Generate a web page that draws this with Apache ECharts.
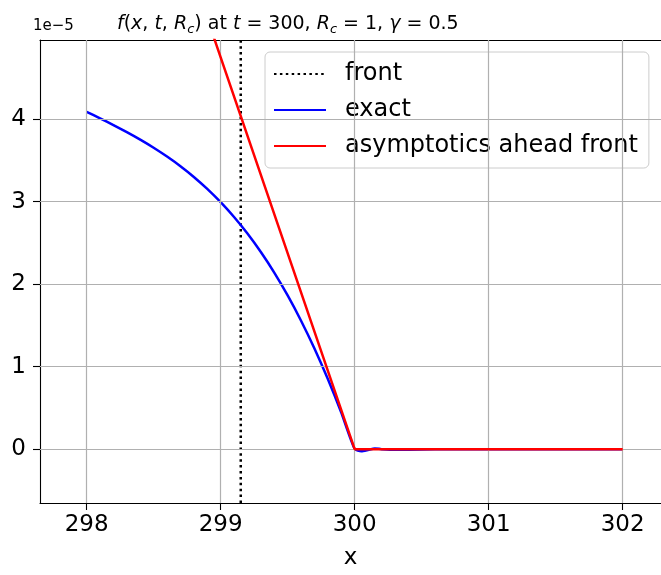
<!DOCTYPE html>
<html>
<head>
<meta charset="utf-8">
<script src="https://cdn.jsdelivr.net/npm/echarts@6/dist/echarts.min.js"></script>
<style>
  html, body { margin: 0; padding: 0; background: #fff; }
  #chart { width: 661px; height: 575px; }
</style>
</head>
<body>
<div id="chart"></div>
<script>
// Values of f are in units of 1e-5
const xTicks = [298, 299, 300, 301, 302];
const yTicks = [0, 1, 2, 3, 4];

const frontX = 299.15;

const exactX = [298.0, 298.1, 298.2, 298.3, 298.4, 298.5, 298.6, 298.7, 298.8, 298.9,
                299.0, 299.1, 299.2, 299.3, 299.4, 299.5, 299.6, 299.7, 299.8, 299.9,
                300.0, 300.05, 300.1, 300.15, 300.2, 300.3, 300.5, 300.7, 301.0, 301.5, 302.0];
const exactY = [4.090, 4.011, 3.929, 3.843, 3.752, 3.654, 3.547, 3.430, 3.300, 3.155,
                2.994, 2.814, 2.613, 2.389, 2.140, 1.863, 1.557, 1.220, 0.849, 0.442,
                0.002, -0.025, -0.010, 0.008, 0.000, -0.008, -0.004, 0.000, 0.000, 0.000, 0.000];

const asymX = [298.0, 300.0, 302.0];
const asymY = [9.50, 0.00, 0.00];

const xMin = 297.652, xMax = 302.286;
const yMin = -0.653, yMax = 4.96;

const pairs = (xs, ys) => xs.map((x, i) => [x, ys[i]]);

const font = 'DejaVu Sans';
const chart = echarts.init(document.getElementById('chart'), null, { renderer: 'canvas' });

const hiddenAxis = {
  axisLabel: { show: false }, axisTick: { show: false }, splitLine: { show: false }
};

chart.setOption({
  animation: false,
  backgroundColor: '#ffffff',
  textStyle: { fontFamily: font, color: '#000' },
  title: {
    text: '{i|f}{n|(}{i|x}{n|, }{i|t}{n|, }{i|R}{s|c}{n|) at }{i|t}{n| = 300, }{i|R}{s|c}{n| = 1, }{i|γ}{n| = 0.5}',
    left: 112,
    top: 7,
    textStyle: {
      fontFamily: font,
      fontSize: 19,
      fontWeight: 'normal',
      color: '#000',
      rich: {
        n: { fontFamily: font, fontSize: 19, fontWeight: 'normal', lineHeight: 24 },
        i: { fontFamily: font, fontSize: 19, fontStyle: 'italic', fontWeight: 'normal', lineHeight: 24 },
        s: { fontFamily: font, fontSize: 13, fontStyle: 'italic', fontWeight: 'normal', lineHeight: 13, verticalAlign: 'bottom' }
      }
    }
  },
  graphic: [{
    type: 'text',
    left: 33,
    top: 19,
    style: { text: '1e\u22125', font: '15px "DejaVu Sans"', fill: '#000' }
  }],
  legend: {
    orient: 'vertical',
    left: 265,
    top: 52,
    itemWidth: 52,
    itemHeight: 14,
    itemGap: 8,
    padding: [8, 11, 8, 8],
    backgroundColor: 'rgba(255,255,255,0.8)',
    borderColor: '#cccccc',
    borderWidth: 1,
    borderRadius: 5,
    itemStyle: { color: 'rgba(0,0,0,0)', borderWidth: 0 },
    textStyle: { fontFamily: font, fontSize: 24, color: '#000', lineHeight: 28, padding: [0, 0, 0, 14] },
    data: ['front', 'exact', 'asymptotics ahead front']
  },
  grid: {
    left: 40, top: 40, right: 0, bottom: 67,
    show: false
  },
  xAxis: [{
    type: 'value',
    min: xMin, max: xMax,
    name: 'x',
    nameLocation: 'middle',
    nameGap: 44,
    nameTextStyle: { fontFamily: font, fontSize: 23, color: '#000' },
    axisLine: { show: true, onZero: false, lineStyle: { color: '#000', width: 1.1 } },
    axisTick: { show: true, length: 7, lineStyle: { color: '#000', width: 1.1 }, customValues: xTicks },
    axisLabel: { fontFamily: font, fontSize: 23, color: '#000', margin: 11, customValues: xTicks },
    splitLine: { show: false }
  }, Object.assign({
    type: 'value', position: 'top',
    min: xMin, max: xMax,
    axisLine: { show: true, onZero: false, lineStyle: { color: '#000', width: 1.1 } }
  }, hiddenAxis)],
  yAxis: {
    type: 'value',
    min: yMin, max: yMax,
    axisLine: { show: true, onZero: false, lineStyle: { color: '#000', width: 1.1 } },
    axisTick: { show: true, length: 7, lineStyle: { color: '#000', width: 1.1 }, customValues: yTicks },
    axisLabel: { fontFamily: font, fontSize: 23, color: '#000', margin: 14, customValues: yTicks },
    splitLine: { show: false }
  },
  series: [
    {
      // grid lines at the tick positions
      type: 'line', name: '_grid', data: [], silent: true,
      markLine: {
        silent: true, symbol: 'none', animation: false,
        label: { show: false },
        lineStyle: { color: '#b0b0b0', width: 1.2, type: 'solid' },
        data: xTicks.map(v => ({ xAxis: v })).concat(yTicks.map(v => ({ yAxis: v })))
      },
      z: 1
    },
    {
      name: 'front', type: 'line', showSymbol: false, symbol: 'none',
      data: [[frontX, yMin], [frontX, yMax]],
      lineStyle: { color: '#000', width: 2.5, type: [2.5, 3.4] },
      itemStyle: { color: '#000' },
      z: 3
    },
    {
      name: 'exact', type: 'line', showSymbol: false, symbol: 'none',
      smooth: 0.2,
      data: pairs(exactX, exactY),
      lineStyle: { color: '#0000ff', width: 2.5 },
      itemStyle: { color: '#0000ff' },
      z: 4
    },
    {
      name: 'asymptotics ahead front', type: 'line', showSymbol: false, symbol: 'none',
      data: pairs(asymX, asymY),
      lineStyle: { color: '#ff0000', width: 2.5 },
      itemStyle: { color: '#ff0000' },
      z: 5
    }
  ]
});
</script>
</body>
</html>
